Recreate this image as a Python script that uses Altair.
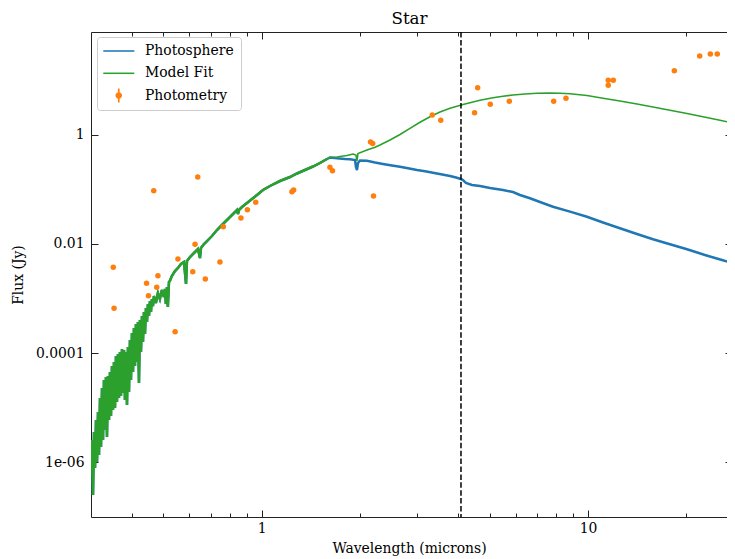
import altair as alt
import pandas as pd

# ---------------- data ----------------
series_names = ["Photosphere", "Model Fit", "Photometry"]
series_colors = ["#1f77b4", "#2ca02c", "#ff7f0e"]
chart_title = "Star"

# short-wavelength part of the spectrum, where photosphere and model coincide
shared_wave = [0.3000, 0.3021, 0.3043, 0.3064, 0.3086, 0.3108, 0.3130, 0.3152, 0.3174, 0.3197,
               0.3219, 0.3242, 0.3265, 0.3288, 0.3311, 0.3334, 0.3358, 0.3382, 0.3406, 0.3430,
               0.3454, 0.3478, 0.3503, 0.3528, 0.3553, 0.3578, 0.3603, 0.3629, 0.3654, 0.3680,
               0.3706, 0.3733, 0.3759, 0.3786, 0.3812, 0.3839, 0.3867, 0.3894, 0.3922, 0.3949,
               0.3977, 0.4005, 0.4034, 0.4062, 0.4091, 0.4120, 0.4149, 0.4178, 0.4208, 0.4238,
               0.4268, 0.4298, 0.4328, 0.4359, 0.4390, 0.4421, 0.4452, 0.4483, 0.4515, 0.4547,
               0.4579, 0.4611, 0.4645, 0.4676, 0.4742, 0.4809, 0.4877, 0.4946, 0.5016, 0.5056,
               0.5087, 0.5127, 0.5159, 0.5200, 0.5232, 0.5306, 0.5426, 0.5541, 0.5659, 0.5781,
               0.5864, 0.5904, 0.6031, 0.6204, 0.6380, 0.6471, 0.6517, 0.6657, 0.6800, 0.7043,
               0.7296, 0.7557, 0.7830, 0.8113, 0.8403, 0.8463, 0.8520, 0.8703, 0.9016, 0.9341,
               0.9676, 1.0095, 1.0605, 1.1378, 1.2214, 1.2830, 1.3574, 1.4361, 1.5088, 1.5852]
shared_flux = [7.25e-7, 2.57e-6, 2.53e-7, 3.60e-6, 7.89e-7, 5.97e-6, 1.016e-6, 8.37e-6, 1.365e-6, 1.51e-5,
               1.912e-6, 2.30e-5, 2.57e-6, 3.225e-5, 3.917e-6, 3.66e-5, 2.916e-6, 3.817e-5, 5.97e-6, 4.519e-5,
               7.07e-6, 5.82e-5, 9.10e-6, 6.89e-5, 9.90e-6, 8.87e-5, 1.276e-5, 9.65e-5, 1.51e-5, 1.05e-4,
               1.643e-5, 1.192e-4, 1.864e-5, 1.142e-4, 1.388e-5, 1.05e-4, 1.124e-5, 1.297e-4, 1.945e-5, 1.742e-4,
               3.225e-5, 2.339e-4, 4.519e-5, 2.888e-4, 5.82e-5, 3.42e-4, 6.89e-5, 3.72e-4, 2.842e-5, 4.048e-4,
               1.05e-4, 4.79e-4, 1.601e-4, 5.67e-4, 2.242e-4, 6.71e-4, 3.72e-4, 7.95e-4, 4.79e-4, 9.02e-4,
               5.67e-4, 9.81e-4, 7.30e-4, 1.113e-3, 8.29e-4, 1.264e-3, 9.81e-4, 1.434e-3, 1.067e-3, 1.496e-3,
               7.95e-4, 1.627e-3, 7.00e-4, 2.009e-3, 2.096e-3, 2.588e-3, 3.194e-3, 3.626e-3, 4.292e-3, 4.669e-3,
               1.847e-3, 4.870e-3, 5.765e-3, 6.823e-3, 8.077e-3, 5.527e-3, 8.42e-3, 9.97e-3, 1.131e-2, 1.397e-2,
               1.800e-2, 2.222e-2, 2.744e-2, 3.387e-2, 4.182e-2, 3.533e-2, 4.182e-2, 4.746e-2, 5.618e-2, 6.648e-2,
               7.87e-2, 9.72e-2, 0.1151, 0.1420, 0.1681, 0.1949, 0.2259, 0.2617, 0.3034, 0.3591]

# photosphere beyond ~1.6 micron
photo_tail_wave = [1.619, 1.701, 1.800, 1.865, 1.932, 1.945, 1.959, 1.973, 2.001, 2.102,
                   2.225, 2.353, 2.507, 2.654, 2.807, 2.991, 3.165, 3.349, 3.543, 3.776,
                   3.939, 4.080, 4.138, 4.227, 4.410, 4.666, 5.006, 5.487, 5.888, 6.185,
                   6.639, 7.123, 7.808, 8.803, 9.924, 11.11, 12.52, 14.12, 15.81, 17.82,
                   20.10, 22.81, 25.72, 29.20]
photo_tail_flux = [0.3825, 0.3699, 0.3591, 0.3546, 0.3442, 0.2563, 0.2259, 0.3034, 0.3371, 0.3342,
                   0.3099, 0.2909, 0.2731, 0.2596, 0.2427, 0.2259, 0.2138, 0.2016, 0.1884, 0.1754,
                   0.1646, 0.1545, 0.1481, 0.1305, 0.1200, 0.1151, 0.1057, 0.0972, 0.0893, 0.0787,
                   0.0685, 0.0586, 0.0481, 0.0390, 0.03153, 0.02470, 0.01934, 0.01520, 0.01216, 0.00985,
                   0.00798, 0.00627, 0.00508, 0.00403]

# model fit (photosphere + dust) beyond ~1.6 micron
model_tail_wave = [1.619, 1.701, 1.738, 1.825, 1.905, 1.945, 1.959, 1.973, 2.102, 2.225,
                   2.304, 2.473, 2.654, 2.847, 3.055, 3.280, 3.518, 3.776, 4.138, 4.666,
                   5.113, 5.487, 5.888, 6.408, 6.974, 7.644, 8.204, 8.803, 9.924, 11.11,
                   12.52, 14.12, 15.81, 17.82, 20.10, 22.50, 25.36, 29.20]
model_tail_flux = [0.3858, 0.3906, 0.3990, 0.4162, 0.4433, 0.4251, 0.3301, 0.4529, 0.5248, 0.5881,
                   0.6479, 0.8000, 1.009, 1.310, 1.688, 2.137, 2.606, 3.045, 3.574, 4.267,
                   4.761, 5.050, 5.335, 5.565, 5.731, 5.804, 5.755, 5.611, 5.224, 4.642,
                   4.143, 3.651, 3.218, 2.799, 2.446, 2.137, 1.836, 1.538]

phot_wave = [0.351, 0.353, 0.444, 0.450, 0.467, 0.477, 0.481, 0.543, 0.554, 0.615,
             0.625, 0.637, 0.672, 0.745, 0.763, 0.864, 0.904, 0.959, 1.238, 1.253,
             1.619, 1.648, 2.155, 2.189, 2.201, 3.332, 3.538, 4.491, 4.590, 5.017,
             5.737, 7.846, 8.557, 11.53, 11.53, 11.95, 18.38, 21.98, 23.69, 24.88]
phot_flux = [3.735e-3, 6.63e-4, 1.90e-3, 1.128e-3, 9.44e-2, 1.607e-3, 2.62e-3, 2.472e-4, 5.30e-3, 3.10e-3,
             9.85e-3, 0.168, 2.281e-3, 4.67e-3, 2.069e-2, 2.985e-2, 4.236e-2, 5.81e-2, 9.01e-2, 9.72e-2,
             0.2532, 0.2194, 0.7356, 0.6906, 7.55e-2, 2.296, 1.844, 2.519, 7.26, 3.605,
             4.092, 4.09, 4.643, 8.03, 9.92, 9.92, 14.87, 27.63, 30.06, 30.06]

cutoff_wave = [4.08]

x_major = [1, 10]
x_major_labels = ["1", "10"]
x_minor = [0.4, 0.5, 0.6, 0.7, 0.8, 0.9, 2, 3, 4, 5, 6, 7, 8, 9, 20]
y_major = [1e-06, 0.0001, 0.01, 1]
y_major_labels = ["1e-06", "0.0001", "0.01", "1"]

# ---------------- tables ----------------
photo_df = pd.DataFrame({"wavelength": shared_wave + photo_tail_wave,
                         "flux": shared_flux + photo_tail_flux})
model_df = pd.DataFrame({"wavelength": shared_wave + model_tail_wave,
                         "flux": shared_flux + model_tail_flux})
model_short_df = pd.DataFrame({"wavelength": shared_wave, "flux": shared_flux})
phot_df = pd.DataFrame({"wavelength": phot_wave, "flux": phot_flux, "series": series_names[2]})
cut_df = pd.DataFrame({"wavelength": cutoff_wave})

# ---------------- styling ----------------
FONT = "DejaVu Serif"
FS = 13.9
INK = "#222222"
MAJ, MIN = 7, 4

x_scale = alt.Scale(type="log", domain=[0.3, 26.65])
y_scale = alt.Scale(type="log", domain=[1e-7, 76])
color_scale = alt.Scale(domain=series_names, range=series_colors)

# legend symbols: thin bars for the spectra, marker with error bar for photometry
line_path = "M-1.1,-0.11L3.33,-0.11L3.33,0.11L-1.1,0.11Z"
err_path = ("M0.99,-1L1.23,-1L1.23,1L0.99,1Z"
            "M1.58,0A0.47,0.47,0,1,1,0.64,0A0.47,0.47,0,1,1,1.58,0Z")
shape_scale = alt.Scale(domain=series_names, range=[line_path, line_path, err_path])

x_label_expr = " : ".join(f"datum.value === {v!r} ? '{l}'" for v, l in zip(x_major, x_major_labels)) + " : ''"
y_label_expr = " : ".join(f"datum.value === {v!r} ? '{l}'" for v, l in zip(y_major, y_major_labels)) + " : ''"

font_axis = dict(grid=False, labelFont=FONT, labelFontSize=FS, labelColor="black",
                 titleFont=FONT, titleFontSize=FS, titleFontWeight="normal", titleColor="black",
                 domain=True, domainColor=INK, domainWidth=1)


def tick_axis(orient, values, size):
    # inward ticks: the axis is pulled into the plot by its tick length
    return alt.Axis(orient=orient, values=values, domain=False, grid=False, labels=False,
                    title=None, ticks=True, tickSize=size, offset=-size,
                    tickColor=INK, tickWidth=1)


x_labels_axis = alt.Axis(orient="bottom", values=x_major, labelExpr=x_label_expr, ticks=False,
                         tickSize=0, labelPadding=4, labelFlush=False, labelOverlap=False,
                         title="Wavelength (microns)", titlePadding=7, **font_axis)
# top spine, carrying the chart title above it
x_top_spine = alt.Axis(orient="top", values=x_major, labels=False, ticks=False,
                       grid=False, domain=True, domainColor=INK, domainWidth=1,
                       title=chart_title, titleFont=FONT, titleFontSize=16.7,
                       titleFontWeight="normal", titleColor="black", titlePadding=5)
y_labels_axis = alt.Axis(orient="left", values=y_major, labelExpr=y_label_expr, ticks=False,
                         tickSize=0, labelPadding=7, labelFlush=False, labelOverlap=False,
                         title="Flux (Jy)", titlePadding=10, **font_axis)

legend = alt.Legend(
    title=None, orient="none", legendX=6, legendY=5,
    symbolSize=196, symbolStrokeWidth=0, symbolOpacity=1,
    labelFont=FONT, labelFontSize=FS, labelColor="black", labelOffset=27,
    padding=7, rowPadding=8.3,
    strokeColor="#cccccc", fillColor="rgba(255,255,255,0.85)", cornerRadius=3,
)

photo_layer = alt.Chart(photo_df).mark_line(strokeWidth=2.5, clip=True, color=series_colors[0]).encode(
    x=alt.X("wavelength:Q", scale=x_scale, axis=x_labels_axis),
    y=alt.Y("flux:Q", scale=y_scale, axis=y_labels_axis),
)
model_layer = alt.Chart(model_df).mark_line(strokeWidth=1.6, clip=True, color=series_colors[1]).encode(
    x=alt.X("wavelength:Q", scale=x_scale, axis=tick_axis("bottom", x_major, MAJ)),
    y=alt.Y("flux:Q", scale=y_scale, axis=tick_axis("left", y_major, MAJ)),
)
model_short_layer = alt.Chart(model_short_df).mark_line(strokeWidth=2.5, clip=True, color=series_colors[1]).encode(
    x=alt.X("wavelength:Q", scale=x_scale, axis=tick_axis("bottom", x_minor, MIN)),
    y=alt.Y("flux:Q", scale=y_scale, axis=None),
)
phot_layer = alt.Chart(phot_df).mark_circle(size=30, opacity=1, clip=True, color=series_colors[2]).encode(
    x=alt.X("wavelength:Q", scale=x_scale, axis=tick_axis("top", x_major, MAJ)),
    # the right spine lies just past the window edge: only the tips of its ticks show
    y=alt.Y("flux:Q", scale=y_scale, axis=tick_axis("right", y_major, 2)),
)
cut_layer = alt.Chart(cut_df).mark_rule(color="black", strokeWidth=1.5, strokeDash=[5.5, 2.4]).encode(
    x=alt.X("wavelength:Q", scale=x_scale, axis=tick_axis("top", x_minor, MIN)),
)
# legend carrier: draws nothing, only supplies the combined legend (and the top spine + title)
legend_layer = alt.Chart(phot_df).transform_filter("false").mark_point(filled=True, opacity=1).encode(
    x=alt.X("wavelength:Q", scale=x_scale, axis=x_top_spine),
    y=alt.Y("flux:Q", scale=y_scale, axis=None),
    fill=alt.Fill("series:N", scale=color_scale, legend=legend),
    shape=alt.Shape("series:N", scale=shape_scale, legend=legend),
)

chart = alt.layer(
    photo_layer, model_layer, model_short_layer, phot_layer, cut_layer, legend_layer
).resolve_axis(
    x="independent", y="independent"
).properties(
    width=636, height=485,
    padding={"left": 83, "top": 24, "right": 0, "bottom": 42},
    autosize=alt.AutoSizeParams(type="none"),
).configure_view(stroke=None)

chart.save("out.html", embed_options={"renderer": "svg", "actions": False})
